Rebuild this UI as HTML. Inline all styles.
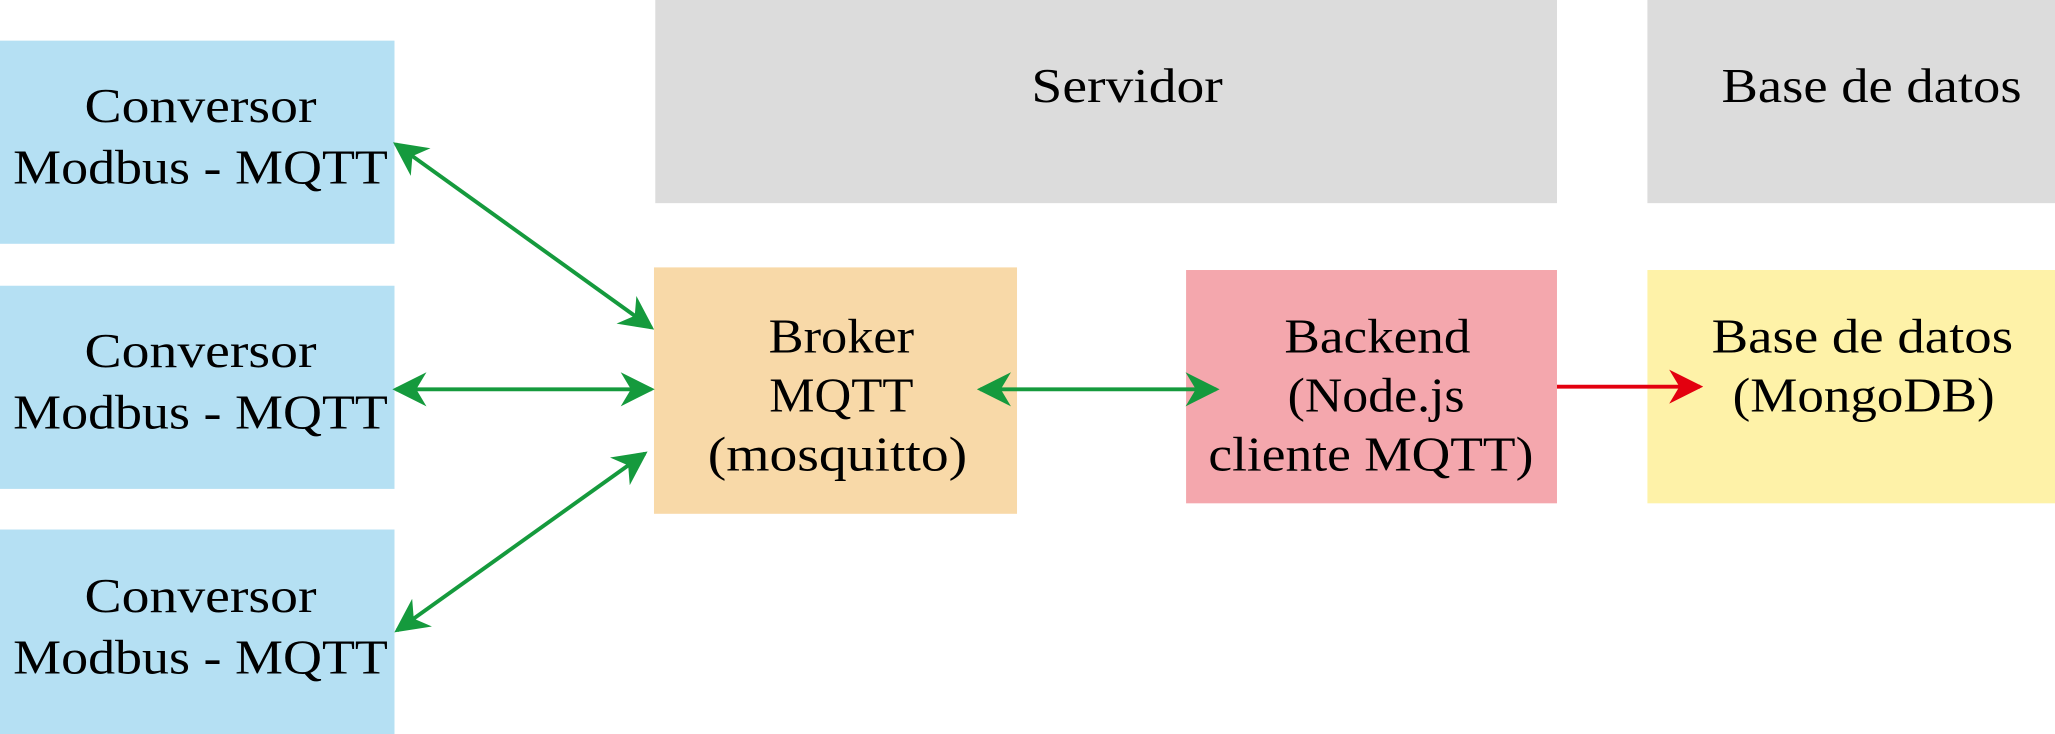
<!DOCTYPE html>
<html><head><meta charset="utf-8"><style>
html,body{margin:0;padding:0;background:#fff;}
svg{display:block;}
text{font-family:"Liberation Serif",serif;font-size:37px;fill:#000;text-anchor:middle;}
</style></head><body>
<svg width="2055" height="734" viewBox="0 0 1568 560" preserveAspectRatio="none" xmlns="http://www.w3.org/2000/svg">
<defs>
<marker id="gm" viewBox="0 0 10 10" refX="9" refY="5" markerWidth="26" markerHeight="26" markerUnits="userSpaceOnUse" orient="auto-start-reverse">
<path d="M0,0 L10,5 L0,10 L3,5 z" fill="#159a3d"/></marker>
<marker id="rm" viewBox="0 0 10 10" refX="9" refY="5" markerWidth="26" markerHeight="26" markerUnits="userSpaceOnUse" orient="auto">
<path d="M0,0 L10,5 L0,10 L3,5 z" fill="#e3000f"/></marker>
</defs>
<rect x="500" y="0" width="688" height="155" fill="#dcdcdc"/>
<rect x="1257" y="0" width="311" height="155" fill="#dcdcdc"/>
<text x="860" y="78" textLength="146" lengthAdjust="spacingAndGlyphs">Servidor</text>
<text x="1428" y="78" textLength="229" lengthAdjust="spacingAndGlyphs">Base de datos</text>
<rect x="0" y="31" width="301" height="155" fill="#b5e0f3"/>
<rect x="0" y="218" width="301" height="155" fill="#b5e0f3"/>
<rect x="0" y="404" width="301" height="156" fill="#b5e0f3"/>
<text x="153" y="93" textLength="177" lengthAdjust="spacingAndGlyphs">Conversor</text><text x="153" y="140" textLength="286" lengthAdjust="spacingAndGlyphs">Modbus - MQTT</text>
<text x="153" y="280" textLength="177" lengthAdjust="spacingAndGlyphs">Conversor</text><text x="153" y="327" textLength="286" lengthAdjust="spacingAndGlyphs">Modbus - MQTT</text>
<text x="153" y="467" textLength="177" lengthAdjust="spacingAndGlyphs">Conversor</text><text x="153" y="514" textLength="286" lengthAdjust="spacingAndGlyphs">Modbus - MQTT</text>
<rect x="499" y="204" width="277" height="188" fill="#f8d9a8"/>
<text x="642" y="269" textLength="111" lengthAdjust="spacingAndGlyphs">Broker</text><text x="642" y="314" textLength="110" lengthAdjust="spacingAndGlyphs">MQTT</text><text x="639" y="359" textLength="198" lengthAdjust="spacingAndGlyphs">(mosquitto)</text>
<rect x="905" y="206" width="283" height="178" fill="#f4a7ad"/>
<text x="1051" y="269" textLength="142" lengthAdjust="spacingAndGlyphs">Backend</text><text x="1050" y="314" textLength="135" lengthAdjust="spacingAndGlyphs">(Node.js</text><text x="1046" y="359" textLength="248" lengthAdjust="spacingAndGlyphs">cliente MQTT)</text>
<rect x="1257" y="206" width="311" height="178" fill="#fef2a8"/>
<text x="1421" y="269" textLength="230" lengthAdjust="spacingAndGlyphs">Base de datos</text><text x="1422" y="314" textLength="200" lengthAdjust="spacingAndGlyphs">(MongoDB)</text>
<g stroke="#159a3d" stroke-width="3" fill="none">
<line x1="302" y1="110" x2="497" y2="250" marker-start="url(#gm)" marker-end="url(#gm)"/>
<line x1="302" y1="297" x2="497" y2="297" marker-start="url(#gm)" marker-end="url(#gm)"/>
<line x1="303" y1="481" x2="492" y2="346" marker-start="url(#gm)" marker-end="url(#gm)"/>
<line x1="748" y1="297" x2="928" y2="297" marker-start="url(#gm)" marker-end="url(#gm)"/>
</g>
<line x1="1188" y1="295" x2="1297" y2="295" stroke="#e3000f" stroke-width="3" marker-end="url(#rm)"/>
</svg>
</body></html>
